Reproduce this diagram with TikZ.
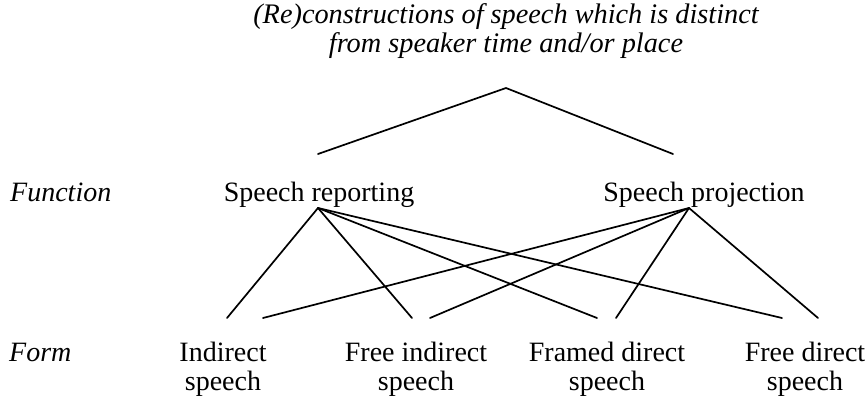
\documentclass[tikz,border=0pt]{standalone}
\usepackage{fontspec}
\setmainfont{Liberation Serif}
\begin{document}
\begin{tikzpicture}[x=1pt,y=-1pt,
  lbl/.style={inner sep=0pt, font=\fontsize{28}{27}\selectfont},
  ilbl/.style={inner sep=0pt, font=\fontsize{28}{27}\selectfont\itshape},
  two/.style={lbl, align=center, anchor=north},
  conn/.style={line width=1.7pt, line cap=round}]
\useasboundingbox (0,0) rectangle (868,396);
% texts
\node[inner sep=0pt, align=center, anchor=north, font=\fontsize{28.3}{28}\selectfont\itshape] (title) at (506,3)
  {\strut(Re)constructions of speech which is distinct\\from speaker time and/or place};
\node[ilbl, anchor=base west] (function) at (10,201) {Function};
\node[lbl, anchor=base] (rep) at (319,201) {Speech reporting};
\node[lbl, anchor=base] (proj) at (704,201) {Speech projection};
\node[ilbl, anchor=base west] (form) at (9,361) {Form};
\node[two] (ind) at (223,342.1) {\strut Indirect\\speech};
\node[two] (fid) at (416,342.1) {\strut Free indirect\\speech};
\node[two] (frd) at (607,342.1) {\strut Framed direct\\speech};
\node[two] (fd) at (805,342.1) {\strut Free direct\\speech};
% connector points
\coordinate (top) at (506,88);
\coordinate (tl) at (318,154);
\coordinate (tr) at (673,154);
\coordinate (ra) at (318,208);
\coordinate (pa) at (689,208);
\coordinate (r1) at (227,318);
\coordinate (r2) at (412,318);
\coordinate (r3) at (597,318);
\coordinate (r4) at (782,318);
\coordinate (p1) at (263,318);
\coordinate (p2) at (430,318);
\coordinate (p3) at (616,318);
\coordinate (p4) at (818,318);
% connectors
\draw[conn] (tl) -- (top) -- (tr);
\foreach \e in {r1,r2,r3,r4} \draw[conn] (ra) -- (\e);
\foreach \e in {p1,p2,p3,p4} \draw[conn] (pa) -- (\e);
\end{tikzpicture}
\end{document}
